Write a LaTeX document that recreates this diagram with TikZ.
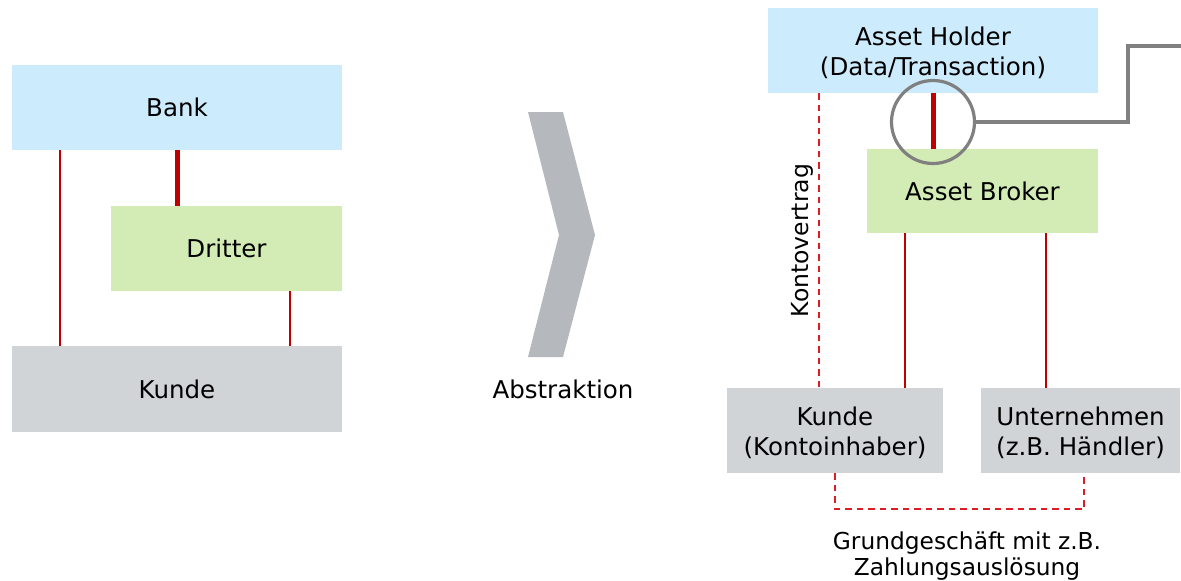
\documentclass[tikz,border=0pt]{standalone}
\usepackage{fontspec}
\setmainfont{DejaVu Sans}
\begin{document}
\begin{tikzpicture}[x=1pt,y=-1pt,
  box/.style={rectangle,inner sep=0pt,outer sep=0pt,align=center,
    font=\fontsize{24.5}{30}\selectfont},
  blue/.style={box,fill=holderblue},
  green/.style={box,fill=brokergreen},
  grey/.style={box,fill=clientgrey},
  link/.style={draw=linkred,line width=1.8pt},
  strong/.style={draw=linkred,line width=5pt},
  contract/.style={draw=dashred,line width=2.2pt,dash pattern=on 6.5pt off 5pt},
  caption/.style={inner sep=0pt,align=center,font=\fontsize{23.3}{26.5}\selectfont}]
\definecolor{holderblue}{HTML}{CCEBFC}
\definecolor{brokergreen}{HTML}{D3EBB5}
\definecolor{clientgrey}{HTML}{D1D4D7}
\definecolor{linkred}{HTML}{C00000}
\definecolor{dashred}{HTML}{DC1E24}
\definecolor{chevron}{HTML}{B5B8BC}
\definecolor{zoomgrey}{HTML}{808080}
\useasboundingbox (0,0) rectangle (1181,581);

% left: classic setup
\node[blue,minimum width=330,minimum height=85] (bank) at (177,107.5) {Bank};
\node[green,minimum width=231,minimum height=85] (dritter) at (226.5,248.5) {Dritter};
\node[grey,minimum width=330,minimum height=86] (kunde) at (177,389) {Kunde};
\draw[link] ([xshift=48]bank.south west) -- ([xshift=48]kunde.north west);
\draw[strong] (bank.south) -- (bank.south |- dritter.north);
\draw[link] ([xshift=-52]dritter.south east) -- ([xshift=-52]kunde.north east);

% middle: abstraction chevron
\fill[chevron] (528,112) -- (563,112) -- (595,235) -- (563,357) -- (528,357) -- (559,235) -- cycle;
\node[caption,font=\fontsize{24.5}{28}\selectfont] (abstr) at (563,389) {Abstraktion};

% right: abstract model
\node[blue,minimum width=330,minimum height=85] (holder) at (933,50.5) {};
\node[box] (holdertext) at (933,53) {Asset Holder\\(Data/Transaction)};
\node[green,minimum width=231,minimum height=84] (broker) at (982.5,191) {Asset Broker};
\node[grey,minimum width=216,minimum height=85] (kunde2) at (835,430.5) {};
\node[box] (kunde2text) at (835,433) {Kunde\\(Kontoinhaber)};
\node[grey,minimum width=199,minimum height=85] (firma) at (1080.5,430.5) {};
\node[box] (firmatext) at (1080.5,433) {Unternehmen\\(z.B. H\"andler)};

\draw[strong] (holder.south -| broker.north west) ++(66,0) coordinate (hb) -- (hb |- broker.north);
\node[circle,draw=zoomgrey,line width=3.2pt,minimum size=83,inner sep=0pt] (lens) at (933,122) {};
\coordinate (exit) at (1181,46);
\draw[draw=zoomgrey,line width=3.2pt] (lens.east) -- (1128,122) |- (exit);

\draw[contract] ([xshift=51]holder.south west) -- ([xshift=92]kunde2.north west)
  node[pos=0.5,left=5pt,rotate=90,anchor=south,inner sep=0pt,font=\fontsize{23.5}{28}\selectfont] (vertrag) {Kontovertrag};
\draw[link] ([xshift=38]broker.south west) -- ([xshift=38]broker.south west |- kunde2.north);
\draw[link] ([xshift=-52]broker.south east) -- ([xshift=-52]broker.south east |- firma.north);

\coordinate (deal) at (835,509);
\draw[contract] (kunde2.south) -- (deal) -| ([xshift=3.5]firma.south);

\node[caption] (grund) at (967,556) {Grundgesch\"aft mit z.B.\\Zahlungsausl\"osung};
\end{tikzpicture}
\end{document}
